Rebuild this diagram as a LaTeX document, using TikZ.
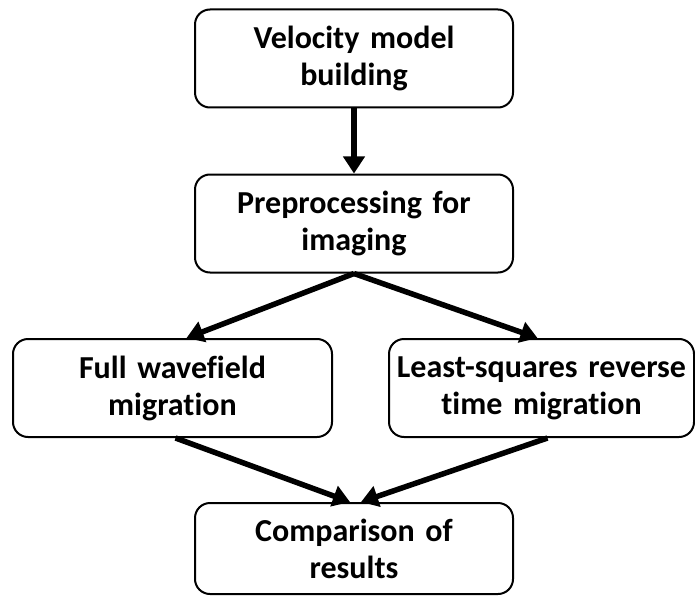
\documentclass[tikz,border=0pt]{standalone}
\usepackage{fontspec}
\setmainfont{Carlito}[Ligatures=NoCommon]
\usepackage{tikz}
\usetikzlibrary{arrows.meta}
\tikzset{
    stepbox/.style={
        rectangle, rounded corners=15pt, draw, fill=white,
        minimum height=98pt, text width=300pt, align=center,
        font=\fontsize{32}{37}\selectfont\bfseries,
        line width=2pt, inner sep=0pt
    },
    flowarrow/.style={
        line width=5.5pt, -{Triangle[length=17pt,width=21pt]}
    }
}
\begin{document}
\begin{tikzpicture}[x=1pt, y=-1pt]
    \useasboundingbox (0,0) rectangle (695,596);
    % Nodes
    \node[stepbox, minimum width=318pt] (vel) at (354,58.5) {Velocity model\\building};
    \node[stepbox, minimum width=318pt] (pre) at (354,223.5) {Preprocessing for\\imaging};
    \node[stepbox, minimum width=319pt] (fwm) at (172.5,388) {Full wavefield\\migration};
    \node[stepbox, minimum width=305pt] (lsr) at (541.5,388) {Least-squares reverse\\time migration};
    \node[stepbox, minimum width=318pt, minimum height=91pt] (cmp) at (354,548.5) {Comparison of\\results};
    % Arrows
    \draw[flowarrow] (vel.south) -- (pre.north);
    \draw[flowarrow] (pre.south) -- ([xshift=14pt]fwm.north);
    \draw[flowarrow] (pre.south) -- ([xshift=-4pt]lsr.north);
    \draw[flowarrow] ([xshift=3pt]fwm.south) -- ([xshift=-4pt]cmp.north);
    \draw[flowarrow] ([xshift=6pt]lsr.south) -- ([xshift=7pt]cmp.north);
\end{tikzpicture}
\end{document}
